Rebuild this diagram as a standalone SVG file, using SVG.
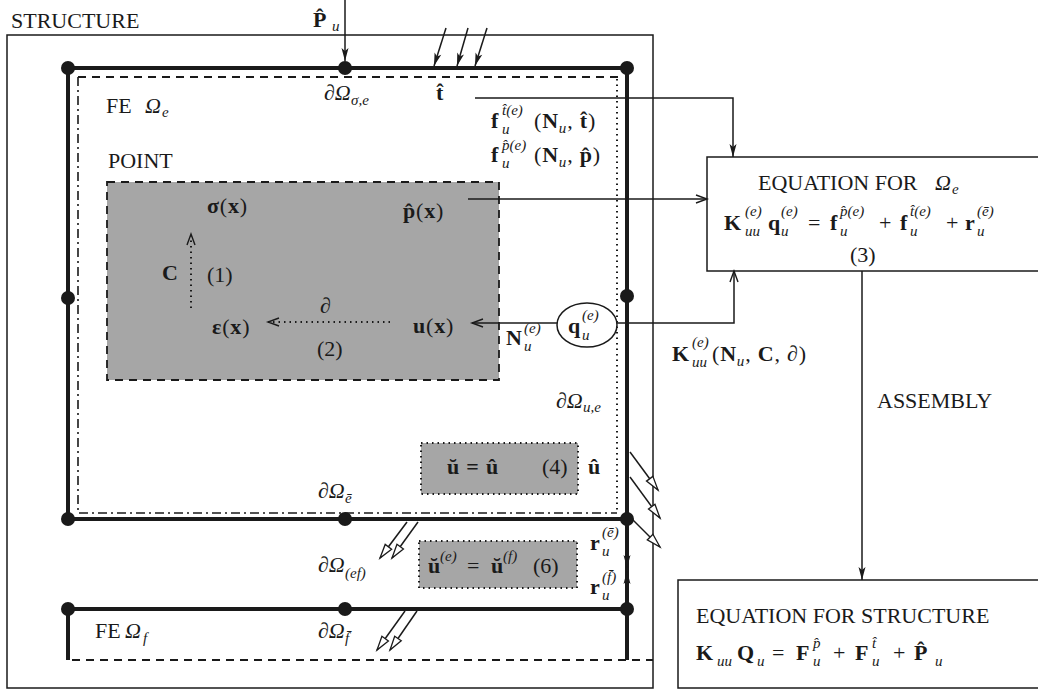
<svg xmlns="http://www.w3.org/2000/svg" width="1038" height="692" viewBox="0 0 1038 692">
<style>
.t{font-family:"Liberation Serif","Times New Roman",serif;font-size:22px;fill:#1a1a1a}
.b{font-weight:bold}
.i{font-style:italic}
.s{font-size:15px}
.ls{letter-spacing:0.8px}
.thick{stroke:#1a1a1a;stroke-width:4;fill:none}
.thin{stroke:#1a1a1a;stroke-width:1.5;fill:none}
.dash{stroke:#1a1a1a;stroke-width:1.8;stroke-dasharray:8,6;fill:none}
.dashdot{stroke:#1a1a1a;stroke-width:1.6;stroke-dasharray:9,4,2,4;fill:none}
.dot{stroke:#1a1a1a;stroke-width:2;stroke-dasharray:1.5,4;fill:none}
.node{fill:#1a1a1a}
.gray{fill:#a6a6a6}
</style>
<defs>
<marker id="arr" markerUnits="userSpaceOnUse" markerWidth="14" markerHeight="8" refX="13" refY="4" orient="auto" overflow="visible"><path d="M0,0.5 L13,4 L0,7.5 L3,4 z" fill="#1a1a1a"/></marker>
<marker id="chev" markerUnits="userSpaceOnUse" markerWidth="14" markerHeight="10" refX="12" refY="5" orient="auto" overflow="visible"><path d="M1,1 L12,5 L1,9" fill="none" stroke="#1a1a1a" stroke-width="1.4"/></marker>
<marker id="hollow" markerUnits="userSpaceOnUse" markerWidth="16" markerHeight="10" refX="15" refY="5" orient="auto" overflow="visible"><path d="M1,1 L15,5 L1,9 z" fill="#fff" stroke="#1a1a1a" stroke-width="1.3"/></marker>
</defs>
<rect width="1038" height="692" fill="#fff"/>

<g id="structure">
<rect class="thin" x="7" y="35" width="646" height="653"/>
<text class="t" x="11" y="28">STRUCTURE</text>
<text class="t b" x="313" y="27">P̂</text><text class="t i s" x="332" y="31">u</text>
</g>

<g id="fe-e">
<path class="thick" d="M68,68 H627 V660 M68,68 V519 H627"/>
<path class="dash" d="M78,77 H622"/>
<path class="dashdot" d="M78,77 V513 H617"/>
<path class="dot" d="M617,79 V512"/>
<circle class="node" cx="68" cy="68" r="7"/>
<circle class="node" cx="345" cy="68" r="7"/>
<circle class="node" cx="627" cy="68" r="7"/>
<circle class="node" cx="68" cy="298" r="7"/>
<circle class="node" cx="627" cy="296" r="7"/>
<circle class="node" cx="68" cy="519" r="7"/>
<circle class="node" cx="345" cy="519" r="7"/>
<circle class="node" cx="627" cy="519" r="7"/>
<text class="t" x="106" y="113">FE</text><text class="t i" x="145" y="113">Ω</text><text class="t i s" x="162" y="117">e</text>
<text class="t i" x="324" y="100">∂Ω</text><text class="t i s" x="351" y="105">σ,e</text>
<text class="t b" x="436" y="100">t̂</text>
<text class="t b" x="491" y="128">f</text><text class="t i s" x="502" y="115">t̂(e)</text><text class="t i s" x="502" y="134">u</text>
<text class="t ls" x="534" y="128">(<tspan class="b">N</tspan><tspan class="i s" dy="5">u</tspan><tspan dy="-5">, </tspan><tspan class="b">t̂</tspan>)</text>
<text class="t b" x="491" y="162">f</text><text class="t i s" x="502" y="150">p̂(e)</text><text class="t i s" x="502" y="168">u</text>
<text class="t ls" x="534" y="162">(<tspan class="b">N</tspan><tspan class="i s" dy="5">u</tspan><tspan dy="-5">, </tspan><tspan class="b">p̂</tspan>)</text>
<text class="t b" x="506" y="345">N</text><text class="t i s" x="524" y="333">(e)</text><text class="t i s" x="524" y="351">u</text>
<text class="t i" x="556" y="408">∂Ω</text><text class="t i s" x="583" y="412">u,e</text>
<text class="t b" x="588" y="474">û</text>
<text class="t i" x="318" y="498">∂Ω</text><text class="t i s" x="345" y="503">ē</text>
<text class="t i" x="318" y="572">∂Ω</text><text class="t i s" x="345" y="578">(ef)</text>
</g>

<g id="point">
<rect class="gray" x="107" y="182" width="392" height="198"/>
<rect class="dash" x="107" y="182" width="392" height="198" stroke-width="2.2"/>
<text class="t" x="108" y="168">POINT</text>
<text class="t ls" x="207" y="213"><tspan class="b">σ</tspan>(<tspan class="b">x</tspan>)</text>
<text class="t ls" x="403" y="218"><tspan class="b">p̂</tspan>(<tspan class="b">x</tspan>)</text>
<text class="t b" x="162" y="280">C</text>
<text class="t" x="207" y="282">(1)</text>
<text class="t i" x="320" y="313">∂</text>
<text class="t ls" x="212" y="334"><tspan class="b">ε</tspan>(<tspan class="b">x</tspan>)</text>
<text class="t ls" x="413" y="333"><tspan class="b">u</tspan>(<tspan class="b">x</tspan>)</text>
<text class="t" x="317" y="356">(2)</text>
</g>

<g id="dof">
<ellipse class="thin" cx="587" cy="325" rx="30" ry="22"/>
<text class="t b" x="568" y="333">q</text><text class="t i s" x="582" y="320">(e)</text><text class="t i s" x="582" y="340">u</text>
</g>

<g id="eq-e">
<rect class="thin" x="707" y="157" width="340" height="114"/>
<text class="t" x="758" y="190">EQUATION FOR</text><text class="t i" x="935" y="190">Ω</text><text class="t i s" x="952" y="194">e</text>
<text class="t b" x="724" y="230">K</text><text class="t i s" x="745" y="216">(e)</text><text class="t i s" x="745" y="236">uu</text>
<text class="t b" x="768" y="230">q</text><text class="t i s" x="781" y="216">(e)</text><text class="t i s" x="781" y="236">u</text>
<text class="t" x="808" y="230">=</text>
<text class="t b" x="830" y="230">f</text><text class="t i s" x="840" y="216">p̂(e)</text><text class="t i s" x="840" y="236">u</text>
<text class="t" x="879" y="230">+</text>
<text class="t b" x="900" y="230">f</text><text class="t i s" x="910" y="216">t̂(e)</text><text class="t i s" x="910" y="236">u</text>
<text class="t" x="946" y="230">+</text>
<text class="t b" x="965" y="230">r</text><text class="t i s" x="977" y="216">(ē)</text><text class="t i s" x="977" y="236">u</text>
<text class="t" x="850" y="262">(3)</text>
</g>

<g id="stiffness">
<text class="t b" x="672" y="361">K</text><text class="t i s" x="692" y="347">(e)</text><text class="t i s" x="692" y="367">uu</text>
<text class="t ls" x="712" y="361">(<tspan class="b">N</tspan><tspan class="i s" dy="5">u</tspan><tspan dy="-5">, </tspan><tspan class="b">C</tspan>, <tspan class="i">∂</tspan>)</text>
<text class="t" x="877" y="408">ASSEMBLY</text>
</g>

<g id="eq-structure">
<rect class="thin" x="678" y="580" width="370" height="108"/>
<text class="t" x="696" y="623">EQUATION FOR STRUCTURE</text>
<text class="t b" x="696" y="660">K</text><text class="t i s" x="717" y="666">uu</text>
<text class="t b" x="737" y="660">Q</text><text class="t i s" x="757" y="666">u</text>
<text class="t" x="772" y="660">=</text>
<text class="t b" x="796" y="660">F</text><text class="t i s" x="813" y="648">p̂</text><text class="t i s" x="813" y="666">u</text>
<text class="t" x="833" y="660">+</text>
<text class="t b" x="855" y="660">F</text><text class="t i s" x="872" y="648">t̂</text><text class="t i s" x="872" y="666">u</text>
<text class="t" x="893" y="660">+</text>
<text class="t b" x="914" y="660">P̂</text><text class="t i s" x="935" y="666">u</text>
</g>

<g id="box4">
<rect class="gray" x="421" y="443" width="157" height="51"/>
<rect class="dot" x="421" y="443" width="157" height="51" stroke-width="1.6" stroke-dasharray="1.5,2.5"/>
<text class="t b ls" x="447" y="474">ŭ = û</text>
<text class="t" x="542" y="474">(4)</text>
</g>

<g id="box6">
<rect class="gray" x="419" y="541" width="158" height="47"/>
<rect class="dot" x="419" y="541" width="158" height="47" stroke-width="1.6" stroke-dasharray="1.5,2.5"/>
<text class="t b" x="428" y="573">ŭ</text><text class="t i s" x="440" y="561">(e)</text>
<text class="t" x="467" y="573">=</text>
<text class="t b" x="491" y="573">ŭ</text><text class="t i s" x="503" y="561">(f)</text>
<text class="t" x="533" y="573">(6)</text>
</g>

<g id="reactions">
<text class="t b" x="590" y="550">r</text><text class="t i s" x="602" y="537">(ē)</text><text class="t i s" x="602" y="556">u</text>
<text class="t b" x="590" y="594">r</text><text class="t i s" x="602" y="582">(f̄)</text><text class="t i s" x="602" y="600">u</text>
</g>

<g id="fe-f">
<path class="thick" d="M68,660 V609 H627"/>
<path class="dash" d="M72,660 H653"/>
<circle class="node" cx="68" cy="609" r="7"/>
<circle class="node" cx="345" cy="609" r="7"/>
<circle class="node" cx="627" cy="609" r="7"/>
<text class="t" x="95" y="638">FE</text><text class="t i" x="125" y="638">Ω</text><text class="t i s" x="143" y="643">f</text>
<text class="t i" x="318" y="638">∂Ω</text><text class="t i s" x="345" y="643">f̄</text>
</g>

<g id="connectors">
<line class="thin" x1="345" y1="0" x2="345" y2="61" marker-end="url(#arr)"/>
<line class="thin" x1="446" y1="28" x2="434" y2="66" marker-end="url(#arr)"/>
<line class="thin" x1="468" y1="28" x2="457" y2="66" marker-end="url(#arr)"/>
<line class="thin" x1="487" y1="28" x2="475" y2="66" marker-end="url(#arr)"/>
<polyline class="thin" points="475,98 733,98 733,157" marker-end="url(#arr)"/>
<line class="thin" x1="468" y1="199" x2="707" y2="199" marker-end="url(#chev)"/>
<line class="thin" x1="557" y1="323" x2="472" y2="323" marker-end="url(#chev)"/>
<polyline class="thin" points="617,323 734,323 734,271" marker-end="url(#chev)"/>
<line class="thin" x1="862" y1="271" x2="862" y2="580" marker-end="url(#arr)"/>
<line class="dot" x1="191" y1="308" x2="191" y2="234" marker-end="url(#chev)"/>
<line class="dot" x1="390" y1="322" x2="268" y2="322" marker-end="url(#chev)"/>
<line class="thin" x1="627" y1="525" x2="627" y2="568" marker-end="url(#arr)"/>
<line class="thin" x1="627" y1="603" x2="627" y2="571" marker-end="url(#arr)"/>
<line class="thin" x1="630" y1="452" x2="658" y2="490" marker-end="url(#hollow)"/>
<line class="thin" x1="630" y1="477" x2="660" y2="518" marker-end="url(#hollow)"/>
<line class="thin" x1="630" y1="517" x2="660" y2="547" marker-end="url(#hollow)"/>
<line class="thin" x1="407" y1="522" x2="380" y2="558" marker-end="url(#hollow)"/>
<line class="thin" x1="418" y1="522" x2="392" y2="558" marker-end="url(#hollow)"/>
<line class="thin" x1="405" y1="611" x2="377" y2="650" marker-end="url(#hollow)"/>
<line class="thin" x1="417" y1="611" x2="390" y2="650" marker-end="url(#hollow)"/>
</g>
</svg>
